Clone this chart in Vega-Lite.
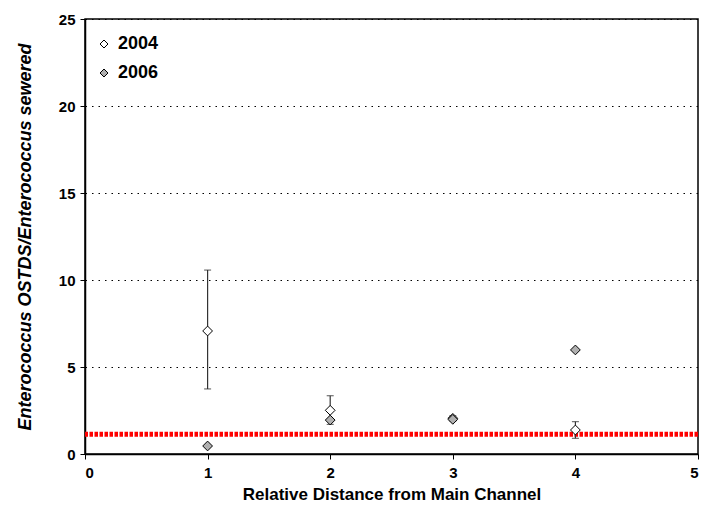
{
  "$schema": "https://vega.github.io/schema/vega-lite/v6.json",
  "width": 613,
  "height": 435,
  "autosize": "none",
  "padding": {"left": 85, "top": 19, "right": 16, "bottom": 56},
  "background": "white",
  "config": {
    "font": "Liberation Sans",
    "view": {"stroke": "black", "strokeWidth": 1.5},
    "scale": {"continuousPadding": 0},
    "axis": {
      "labelFont": "Liberation Sans",
      "labelFontWeight": "bold",
      "labelFontSize": 15,
      "labelColor": "black",
      "titleFont": "Liberation Sans",
      "titleColor": "black",
      "domainColor": "black",
      "domainWidth": 1.5,
      "tickColor": "black",
      "tickSize": 5,
      "gridColor": "black",
      "gridDash": [1.5, 5],
      "gridWidth": 1
    }
  },
  "datasets": {
    "pts": [
      {"distance": 1, "year": "2004", "ratio": 7.07, "lo": 3.74, "hi": 10.57},
      {"distance": 2, "year": "2004", "ratio": 2.51, "lo": 1.7, "hi": 3.35},
      {"distance": 3, "year": "2004", "ratio": 2.05, "lo": 1.9, "hi": 2.2},
      {"distance": 4, "year": "2004", "ratio": 1.38, "lo": 0.9, "hi": 1.86},
      {"distance": 1, "year": "2006", "ratio": 0.46},
      {"distance": 2, "year": "2006", "ratio": 1.95},
      {"distance": 3, "year": "2006", "ratio": 1.99},
      {"distance": 4, "year": "2006", "ratio": 5.98}
    ],
    "ref": [{"level": 1.13}]
  },
  "layer": [
    {
      "data": {"name": "ref"},
      "mark": {"type": "rule", "color": "#ff0000", "strokeWidth": 5, "strokeDash": [3.5, 1.5]},
      "encoding": {
        "y": {"field": "level", "type": "quantitative", "scale": {"domain": [0, 25], "padding": 0, "nice": false}}
      }
    },
    {
      "data": {"name": "pts"},
      "transform": [{"filter": "datum.year == '2004'"}],
      "mark": {"type": "rule", "color": "#333333", "strokeWidth": 1.2},
      "encoding": {
        "x": {"field": "distance", "type": "quantitative"},
        "y": {"field": "lo", "type": "quantitative"},
        "y2": {"field": "hi"}
      }
    },
    {
      "data": {"name": "pts"},
      "transform": [{"filter": "datum.year == '2004'"}],
      "mark": {"type": "tick", "orient": "horizontal", "color": "#333333", "thickness": 1.2, "size": 7},
      "encoding": {
        "x": {"field": "distance", "type": "quantitative"},
        "y": {"field": "lo", "type": "quantitative"}
      }
    },
    {
      "data": {"name": "pts"},
      "transform": [{"filter": "datum.year == '2004'"}],
      "mark": {"type": "tick", "orient": "horizontal", "color": "#333333", "thickness": 1.2, "size": 7},
      "encoding": {
        "x": {"field": "distance", "type": "quantitative"},
        "y": {"field": "hi", "type": "quantitative"}
      }
    },
    {
      "data": {"name": "pts"},
      "mark": {"type": "point", "shape": "diamond", "filled": true, "size": 95, "stroke": "black", "strokeWidth": 1, "opacity": 1},
      "encoding": {
        "x": {
          "field": "distance", "type": "quantitative",
          "scale": {"domain": [0, 5], "padding": 0, "nice": false},
          "axis": {
            "values": [0, 1, 2, 3, 4, 5],
            "format": "d",
            "grid": false,
            "title": "Relative Distance from Main Channel",
            "titleFontSize": 17,
            "titleFontWeight": "bold",
            "titlePadding": 6,
            "labelPadding": 6
          }
        },
        "y": {
          "field": "ratio", "type": "quantitative",
          "scale": {"domain": [0, 25], "padding": 0, "nice": false},
          "axis": {
            "values": [0, 5, 10, 15, 20, 25],
            "format": "d",
            "grid": true,
            "title": "Enterococcus OSTDS/Enterococcus sewered",
            "titleFontSize": 18,
            "titleFontWeight": "bold",
            "titleFontStyle": "italic",
            "titlePadding": 24,
            "labelPadding": 5
          }
        },
        "fill": {
          "field": "year", "type": "nominal",
          "scale": {"domain": ["2004", "2006"], "range": ["white", "#b0b0b0"]},
          "legend": {
            "title": null,
            "orient": "none",
            "legendX": 10,
            "legendY": 16,
            "padding": 0,
            "symbolType": "diamond",
            "symbolSize": 64,
            "symbolStrokeColor": "black",
            "symbolStrokeWidth": 1,
            "labelFontSize": 18,
            "labelFontWeight": "bold",
            "labelColor": "black",
            "labelFont": "Liberation Sans",
            "labelOffset": 5,
            "rowPadding": 11
          }
        },
        "order": {"field": "year", "type": "nominal"}
      }
    }
  ]
}
